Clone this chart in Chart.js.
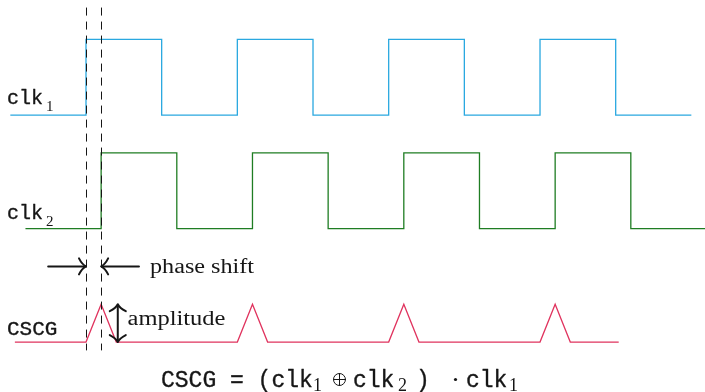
<!DOCTYPE html>
<html>
<head>
<meta charset="utf-8">
<script src="https://cdn.jsdelivr.net/npm/chart.js@4/dist/chart.umd.min.js"></script>
<style>
  html, body { margin: 0; padding: 0; background: #fff; }
  #wrap { width: 705px; height: 392px; position: relative; }
</style>
</head>
<body>
<div id="wrap"><canvas id="c"></canvas></div>
<script>
// Time axis in half-periods of the clock; levels are logic 0/1.
const clk1Time  = [0, 1, 2, 3, 4, 5, 6, 7, 8, 9];
const clk1Level = [0, 1, 0, 1, 0, 1, 0, 1, 0, 0];
const clk2Time  = [0.2, 1.2, 2.2, 3.2, 4.2, 5.2, 6.2, 7.2, 8.2, 9.2];
const clk2Level = [0, 1, 0, 1, 0, 1, 0, 1, 0, 0];
// CSCG pulse: rises at the clk1 edge, peaks at the clk2 edge
const cscgTime  = [0.06, 1, 1.2, 1.4, 3, 3.2, 3.4, 5, 5.2, 5.4, 7, 7.2, 7.4, 8.04];
const cscgLevel = [0, 0, 0.5, 0, 0, 0.5, 0, 0, 0.5, 0, 0, 0.5, 0, 0];
// vertical offset of each trace's lane
const laneNames  = ['clk1', 'clk2', 'CSCG'];
const laneOffset = [3, 1.5, 0];

const toPoints = (t, v, off) => t.map((x, i) => ({ x: x, y: v[i] + off }));

const INK = '#161616';
const SERIF = '"Liberation Serif"';
const MONO = '"Liberation Mono"';

function fitText(ctx, str, x, y, font, width) {
  ctx.save();
  ctx.font = font;
  const w = ctx.measureText(str).width;
  ctx.translate(x, y);
  if (width) ctx.scale(width / w, 1);
  ctx.fillText(str, 0, 0);
  ctx.restore();
}

// monospaced text with a light outline for a slightly heavier stroke
function monoText(ctx, str, x, y, size) {
  ctx.save();
  ctx.font = size + 'px ' + MONO;
  ctx.lineWidth = 0.35;
  ctx.strokeStyle = ctx.fillStyle;
  ctx.fillText(str, x, y);
  ctx.strokeText(str, x, y);
  ctx.restore();
}

// "to"-style arrow tip at (tx, ty) pointing along angle a
function arrowTip(ctx, tx, ty, a) {
  ctx.save();
  ctx.translate(tx, ty);
  ctx.rotate(a);
  ctx.beginPath();
  ctx.moveTo(-7, -8);
  ctx.quadraticCurveTo(-4, -2, 0, 0);
  ctx.quadraticCurveTo(-4, 2, -7, 8);
  ctx.stroke();
  ctx.restore();
}

const annotations = {
  id: 'annotations',
  afterDatasetsDraw(chart) {
    const ctx = chart.ctx;
    const X = v => chart.scales.x.getPixelForValue(v);
    const Y = v => chart.scales.y.getPixelForValue(v);
    ctx.save();
    ctx.fillStyle = INK;
    ctx.strokeStyle = INK;

    // dashed guides at the two rising edges
    ctx.lineWidth = 1;
    ctx.setLineDash([8, 6]);
    [clk1Time[1], clk2Time[1]].forEach(t => {
      const x = Math.round(X(t)) + 0.5;
      ctx.beginPath();
      ctx.moveTo(x, Y(4.42));
      ctx.lineTo(x, Y(-0.11));
      ctx.stroke();
    });
    ctx.setLineDash([]);

    // phase shift arrows
    ctx.lineWidth = 2;
    ctx.lineCap = 'round';
    ctx.lineJoin = 'round';
    const ay = Y(1.0);
    const a1 = X(clk1Time[1]), a2 = X(clk2Time[1]);
    ctx.beginPath();
    ctx.moveTo(X(0.5), ay); ctx.lineTo(a1 - 1, ay);
    ctx.moveTo(X(1.7), ay); ctx.lineTo(a2 + 1, ay);
    ctx.stroke();
    arrowTip(ctx, a1, ay, 0);
    arrowTip(ctx, a2, ay, Math.PI);

    // amplitude double arrow
    const vx = X(1.42);
    const yTop = Y(cscgLevel[2]), yBot = Y(0);
    ctx.beginPath();
    ctx.moveTo(vx, yTop + 1); ctx.lineTo(vx, yBot - 1);
    ctx.stroke();
    arrowTip(ctx, vx, yTop, -Math.PI / 2);
    arrowTip(ctx, vx, yBot, Math.PI / 2);

    // serif captions
    fitText(ctx, 'phase shift', 150, ay + 6.5, '20px ' + SERIF, 104);
    fitText(ctx, 'amplitude', 127.5, yBot - 17, '20px ' + SERIF, 98);

    // lane labels
    const b1 = Y(laneOffset[0]), b2 = Y(laneOffset[1]), b3 = Y(laneOffset[2]);
    monoText(ctx, 'clk', 7, b1 - 11, 20);
    fitText(ctx, '1', 46, b1 - 4, '15px ' + SERIF);
    monoText(ctx, 'clk', 7, b2 - 10, 20);
    fitText(ctx, '2', 46, b2 - 3, '15px ' + SERIF);
    monoText(ctx, 'CSCG', 7, b3 - 7, 21);

    // formula
    const fy = 387;
    monoText(ctx, 'CSCG = (clk', 161, fy, 23);
    fitText(ctx, '1', 313, fy + 4, '18px ' + SERIF);
    // circled plus
    ctx.lineWidth = 1;
    ctx.beginPath();
    ctx.arc(339.5, 379.5, 6, 0, Math.PI * 2);
    ctx.moveTo(333.5, 379.5); ctx.lineTo(345.5, 379.5);
    ctx.moveTo(339.5, 373.5); ctx.lineTo(339.5, 385.5);
    ctx.stroke();
    monoText(ctx, 'clk', 353, fy, 23);
    fitText(ctx, '2', 398, fy + 4, '18px ' + SERIF);
    monoText(ctx, ')', 416, fy, 23);
    ctx.beginPath();
    ctx.arc(455.5, 379.5, 1.6, 0, Math.PI * 2);
    ctx.fill();
    monoText(ctx, 'clk', 466, fy, 23);
    fitText(ctx, '1', 509, fy + 4, '18px ' + SERIF);

    ctx.restore();
  }
};

const colors = ['#2aa8e0', '#1f7d23', '#e0335e'];
const series = [[clk1Time, clk1Level], [clk2Time, clk2Level], [cscgTime, cscgLevel]];

new Chart(document.getElementById('c'), {
  type: 'line',
  data: {
    datasets: series.map((s, i) => ({
      label: laneNames[i],
      data: toPoints(s[0], s[1], laneOffset[i]),
      borderColor: colors[i],
      borderWidth: 1.3,
      pointRadius: 0,
      fill: false,
      tension: 0,
      stepped: i < 2 ? 'before' : false,
      clip: false
    }))
  },
  options: {
    responsive: true,
    maintainAspectRatio: false,
    animation: false,
    layout: { padding: 0 },
    plugins: { legend: { display: false }, tooltip: { enabled: false } },
    scales: {
      x: { type: 'linear', display: false, min: -0.1365, max: 9.1803 },
      y: { type: 'linear', display: false, min: -0.660, max: 4.520 }
    }
  },
  plugins: [annotations]
});
</script>
</body>
</html>
